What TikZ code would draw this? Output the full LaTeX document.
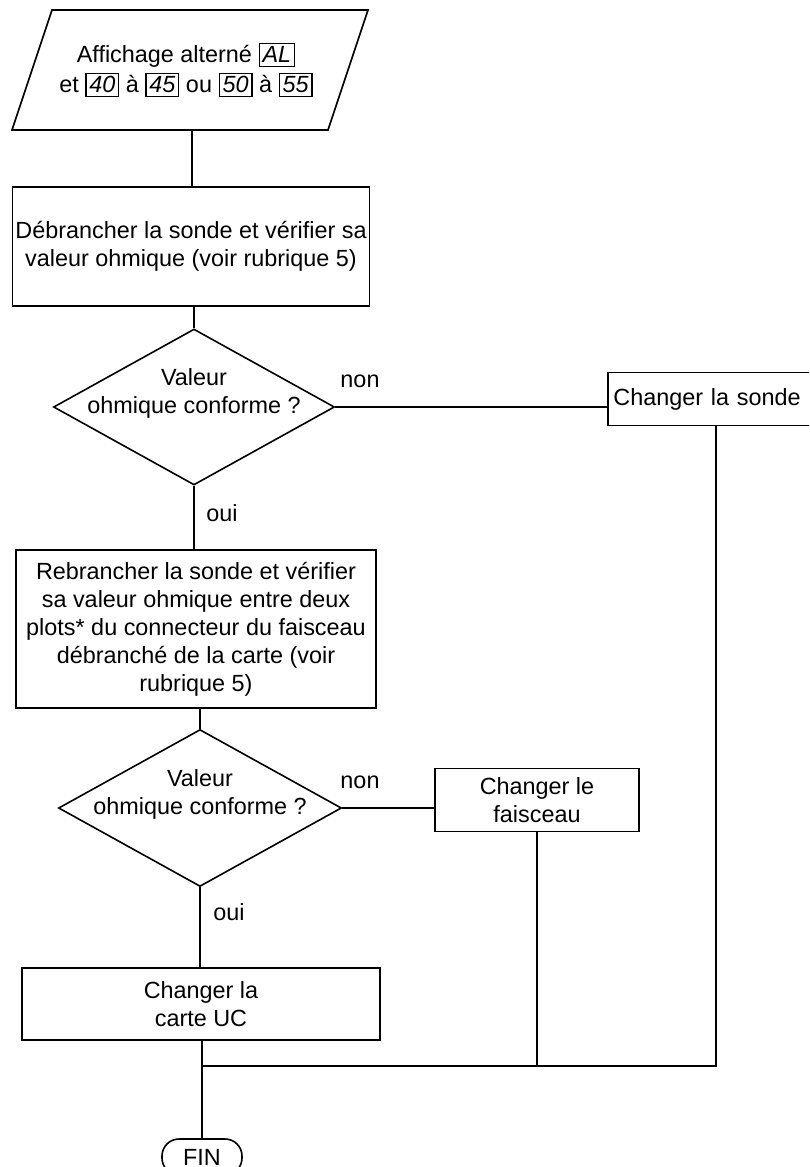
\documentclass[tikz,border=0pt]{standalone}
\usepackage{fontspec}
\setmainfont{Liberation Sans}
\usetikzlibrary{shapes.geometric}
\newcommand\dispbox[1]{{\setlength\fboxsep{1.4pt}\setlength\fboxrule{0.6pt}\fbox{\itshape #1}}}
\tikzset{
  every node/.style={font=\fontsize{11.7}{14}\selectfont},
  box/.style={draw, line width=0.8pt, align=center, inner sep=0pt},
  dec/.style={draw, diamond, line width=0.8pt, inner sep=0pt},
  conn/.style={line width=0.8pt},
  lbl/.style={inner sep=0pt, align=center},
}
\begin{document}
\begin{tikzpicture}[x=0.5pt,y=-0.5pt]
\useasboundingbox (0,0) rectangle (809,1167);
\clip (0,0) rectangle (809,1167);
\fill[white] (0,0) rectangle (809,1167);

% input parallelogram
\coordinate (pa) at (12,130);
\coordinate (pb) at (328,130);
\coordinate (pc) at (368,10);
\coordinate (pd) at (52,10);
\draw[conn] (pa) -- (pb) -- (pc) -- (pd) -- cycle;
\node[lbl] (ptxt) at (186,70) {Affichage altern\'e \dispbox{AL}\\[1pt]
  et \dispbox{40} \`a \dispbox{45} ou \dispbox{50} \`a \dispbox{55}};
\coordinate (pbot) at (192,130);

% boxes and decisions
\node[box, minimum width=178.5pt, minimum height=59.5pt] (b1) at (191,246.5)
  {D\'ebrancher la sonde et v\'erifier sa\\valeur ohmique (voir rubrique 5)};
\node[dec, minimum width=140.5pt, minimum height=78pt] (d1) at (194,407) {};
\node[lbl] (t1) at (194,393) {Valeur\\ohmique conforme ?};
\node[lbl] (n1) at (360,381) {non};
% box cut by the right edge of the page: its right side is not shown
\node[anchor=west, minimum height=26pt, text width=120pt, align=left,
  inner xsep=2.5pt, inner ysep=0pt] (sonde) at (608,399) {Changer la sonde};
\draw[conn] (sonde.north east) -- (sonde.north west) -- (sonde.south west)
  -- (sonde.south east);
\node[lbl] (o1) at (222,513) {oui};
\node[box, minimum width=180pt, minimum height=79pt] (b2) at (196,629)
  {Rebrancher la sonde et v\'erifier\\sa valeur ohmique entre deux\\plots* du connecteur du faisceau\\d\'ebranch\'e de la carte (voir\\rubrique 5)};
\node[dec, minimum width=141.5pt, minimum height=78.5pt] (d2) at (200,808) {};
\node[lbl] (t2) at (200,794) {Valeur\\ohmique conforme ?};
\node[lbl] (n2) at (360,782) {non};
\node[box, minimum width=102pt, minimum height=31.5pt] (fais) at (537,800)
  {Changer le\\faisceau};
\node[lbl] (o2) at (229,912) {oui};
\node[box, minimum width=179pt, minimum height=36pt] (b3) at (201,1004)
  {Changer la\\carte UC};
\node[draw, line width=0.8pt, rounded corners=8.5pt, minimum width=40pt,
  minimum height=18pt, inner sep=0pt] (fin) at (202,1157) {FIN};

\coordinate (j) at (202,1066);
\coordinate (jr) at (716,1066);

% connectors
\draw[conn] (pbot) -- (pbot |- b1.north);
\draw[conn] (b1.south -| d1.north) -- (d1.north);
\draw[conn] (d1.east) -- (d1.east -| sonde.west);
\draw[conn] (d1.south) -- (d1.south |- b2.north);
\draw[conn] (b2.south -| d2.north) -- (d2.north);
\draw[conn] (d2.east) -- (d2.east -| fais.west);
\draw[conn] (d2.south) -- (d2.south |- b3.north);
\draw[conn] (b3.south -| j) -- (j) -- (fin.north);
\draw[conn] (fais.south) -- (fais.south |- j);
\draw[conn] (sonde.south -| jr) -- (jr) -- (j);
\end{tikzpicture}
\end{document}
